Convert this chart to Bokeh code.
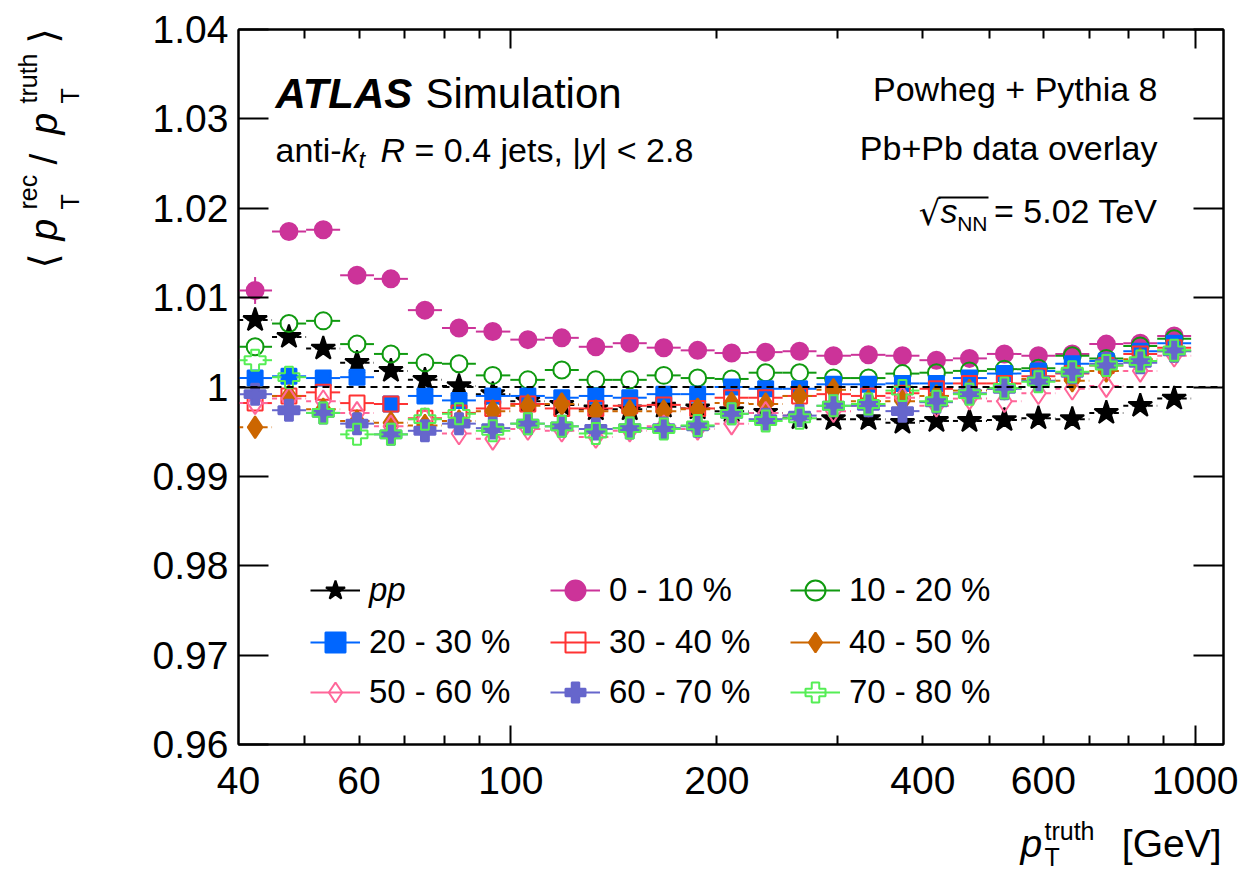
import numpy as np
from bokeh.plotting import figure
from bokeh.layouts import row, column
from bokeh.models import (ColumnDataSource, FixedTicker, LogAxis, LinearAxis, Label,
                          Legend, LegendItem, CustomJSTickFormatter, Span, BoxAnnotation, Range1d)
from bokeh.embed import file_html
from bokeh.resources import INLINE

# ---------------- data ----------------
pt_truth = [42.3, 47.4, 53.2, 59.6, 66.8, 74.9, 84.0, 94.1, 105.9, 118.7, 133.1, 149.2,
            167.3, 187.5, 210.2, 235.7, 264.2, 296.1, 333.1, 373.5, 418.7, 467.9, 526.3,
            590.1, 661.3, 741.6, 831.3, 931.8]

resp_pp = [1.0075, 1.0056, 1.0043, 1.0027, 1.0018, 1.0008, 1.0001, 0.9992, 0.9984, 0.9980,
           0.9975, 0.9975, 0.9978, 0.9976, 0.9973, 0.9971, 0.9965, 0.9964, 0.9964, 0.9960,
           0.9962, 0.9962, 0.9963, 0.9965, 0.9964, 0.9971, 0.9979, 0.9987]
resp_0_10 = [1.0108, 1.0174, 1.0176, 1.0125, 1.0121, 1.0086, 1.0066, 1.0062, 1.0053, 1.0055,
             1.0045, 1.0049, 1.0044, 1.0041, 1.0038, 1.0039, 1.0040, 1.0035, 1.0036, 1.0035,
             1.0030, 1.0032, 1.0037, 1.0035, 1.0037, 1.0048, 1.0049, 1.0057]
resp_10_20 = [1.0045, 1.0071, 1.0074, 1.0048, 1.0037, 1.0027, 1.0026, 1.0013, 1.0008, 1.0019,
              1.0008, 1.0008, 1.0013, 1.0010, 1.0009, 1.0016, 1.0016, 1.0010, 1.0010, 1.0015,
              1.0016, 1.0018, 1.0020, 1.0021, 1.0035, 1.0032, 1.0046, 1.0054]
resp_20_30 = [1.0010, 1.0012, 1.0010, 1.0011, 0.9981, 0.9990, 0.9985, 0.9990, 0.9990, 0.9988,
              0.9990, 0.9988, 0.9992, 0.9992, 1.0000, 0.9998, 0.9998, 1.0003, 1.0003, 1.0004,
              1.0004, 1.0010, 1.0015, 1.0018, 1.0026, 1.0029, 1.0040, 1.0049]
resp_30_40 = [0.9982, 0.9990, 0.9994, 0.9982, 0.9981, 0.9965, 0.9971, 0.9976, 0.9981, 0.9976,
              0.9976, 0.9979, 0.9980, 0.9976, 0.9988, 0.9988, 0.9990, 0.9992, 0.9990, 0.9993,
              0.9998, 1.0004, 1.0004, 1.0012, 1.0015, 1.0024, 1.0037, 1.0044]
resp_40_50 = [0.9955, 0.9990, 0.9975, 0.9962, 0.9960, 0.9957, 0.9962, 0.9973, 0.9979, 0.9981,
              0.9973, 0.9973, 0.9973, 0.9975, 0.9982, 0.9981, 0.9990, 0.9997, 0.9984, 0.9984,
              0.9990, 0.9996, 0.9998, 1.0009, 1.0007, 1.0018, 1.0031, 1.0040]
resp_50_60 = [0.9982, 0.9987, 0.9984, 0.9971, 0.9956, 0.9964, 0.9948, 0.9942, 0.9953, 0.9951,
              0.9944, 0.9951, 0.9956, 0.9953, 0.9959, 0.9971, 0.9968, 0.9973, 0.9979, 0.9988,
              0.9979, 0.9987, 0.9984, 0.9993, 0.9998, 1.0001, 1.0018, 1.0035]
resp_60_70 = [0.9992, 0.9974, 0.9971, 0.9959, 0.9947, 0.9951, 0.9959, 0.9954, 0.9959, 0.9956,
              0.9953, 0.9954, 0.9954, 0.9956, 0.9970, 0.9964, 0.9968, 0.9979, 0.9979, 0.9973,
              0.9983, 0.9993, 0.9998, 1.0007, 1.0016, 1.0026, 1.0027, 1.0040]
resp_70_80 = [1.0030, 1.0011, 0.9971, 0.9947, 0.9947, 0.9964, 0.9970, 0.9951, 0.9959, 0.9956,
              0.9948, 0.9954, 0.9953, 0.9957, 0.9970, 0.9962, 0.9965, 0.9979, 0.9981, 0.9996,
              0.9984, 0.9992, 0.9999, 1.0006, 1.0017, 1.0024, 1.0029, 1.0041]

err_pp = [0.0004, 0.0003, 0.0002, 0.0002, 0.0001, 0.0001, 0.0001, 0.0001, 0.0001, 0.0001,
          0.0001, 0.0001, 0.0001, 0.0001, 0.0001, 0.0001, 0.0001, 0.0001, 0.0001, 0.0001,
          0.0001, 0.0001, 0.0001, 0.0001, 0.0001, 0.0001, 0.0001, 0.0001]
err_0_10 = [0.0015, 0.0009, 0.0006, 0.0005, 0.0005, 0.0004, 0.0004, 0.0003, 0.0003, 0.0003,
            0.0003, 0.0002, 0.0002, 0.0002, 0.0002, 0.0002, 0.0002, 0.0002, 0.0002, 0.0002,
            0.0002, 0.0002, 0.0002, 0.0002, 0.0002, 0.0002, 0.0002, 0.0002]

labels = ["pp", "0 - 10 %", "10 - 20 %", "20 - 30 %", "30 - 40 %", "40 - 50 %",
          "50 - 60 %", "60 - 70 %", "70 - 80 %"]
x_tick_labels = [40, 60, 100, 200, 400, 600, 1000]
y_ticks = [0.96, 0.97, 0.98, 0.99, 1.00, 1.01, 1.02, 1.03, 1.04]

# ---------------- styles ----------------
styles = [
    dict(y=resp_pp, err=err_pp, color="#000000", marker="star", size=25, filled=True, dash="5 4"),
    dict(y=resp_0_10, err=err_0_10, color="#cc3399", marker="circle", size=17, filled=True, dash="solid"),
    dict(y=resp_10_20, err=None, color="#109a10", marker="circle", size=17, filled=False, dash="solid"),
    dict(y=resp_20_30, err=None, color="#0066ff", marker="square", size=15, filled=True, dash="solid"),
    dict(y=resp_30_40, err=None, color="#ff3333", marker="square", size=15, filled=False, dash="solid"),
    dict(y=resp_40_50, err=None, color="#cc6600", marker="diamond", size=22, filled=True, dash="5 4"),
    dict(y=resp_50_60, err=None, color="#ff6699", marker="diamond", size=22, filled=False, dash="5 4"),
    dict(y=resp_60_70, err=None, color="#6666cc", marker="plus", size=21, filled=True, dash="solid"),
    dict(y=resp_70_80, err=None, color="#55ee55", marker="plus", size=21, filled=False, dash="solid"),
]

W, H = 1242, 872
LW = 120            # width of left strip (y title)
MH = 815            # height of main figure
FL, FR, FT, FB = 238, 1223, 29, 744
FONT = "Liberation Sans"

def txt(fig, left0, bottom0, text, px, py, size, style="normal", align="left",
        angle=0.0, font=FONT):
    shift = 0.32 * size   # baseline correction
    if angle:
        px = px - shift
    else:
        py = py - shift
    fig.add_layout(Label(x=px - left0, y=bottom0 - py, x_units="screen", y_units="screen",
                         text=text, text_font=font, text_font_size=f"{size}px",
                         text_font_style=style, text_align=align,
                         text_baseline="alphabetic", angle=angle, text_color="black"))

# ---------------- left strip : y axis title ----------------
lf = figure(width=LW, height=H, output_backend="svg", toolbar_location=None,
            x_range=Range1d(0, 1), y_range=Range1d(0, 1), min_border=0,
            x_axis_location=None, y_axis_location=None)
lf.outline_line_color = None
lf.grid.visible = False
lf.background_fill_color = "white"
lf.border_fill_color = "white"

R = np.pi / 2
def ytxt(text, px, py, size, style="normal", font=FONT):
    txt(lf, 0, H, text, px, py, size, style, angle=R, font=font)

ytxt("\u27e8", 55, 268, 39, font="DejaVu Sans")
ytxt("p", 55, 240, 39, "italic")
ytxt("rec", 35, 209, 25)
ytxt("T", 77, 209, 25)
ytxt("/", 55, 164, 39)
ytxt("p", 55, 134, 39, "italic")
ytxt("truth", 35, 103, 25)
ytxt("T", 77, 103, 25)
ytxt("\u27e9", 55, 43, 39, font="DejaVu Sans")

# ---------------- main figure ----------------
p = figure(width=W - LW, height=MH, x_axis_type="log",
           x_range=Range1d(40, 1100), y_range=Range1d(0.96, 1.04),
           output_backend="svg", toolbar_location=None,
           min_border_left=FL - LW, min_border_right=W - FR,
           min_border_top=FT, min_border_bottom=MH - FB)
p.grid.visible = False
p.outline_line_color = "black"
p.outline_line_width = 2
p.background_fill_color = "white"
p.border_fill_color = "white"

def mtxt(text, px, py, size, style="normal", align="left", font=FONT):
    txt(p, FL, FB, text, px, py, size, style, align, font=font)

mtxt("ATLAS", 275, 106, 42, "bold italic")
mtxt("Simulation", 425, 106, 42)
mtxt("anti-", 275, 160, 34)
mtxt("k", 341, 160, 34, "italic")
mtxt("t", 358, 167, 24, "italic")
mtxt("R", 380, 160, 34, "italic")
mtxt("= 0.4 jets, |", 414, 160, 34)
mtxt("y", 581, 160, 34, "italic")
mtxt("| < 2.8", 598, 160, 34)

mtxt("Powheg + Pythia 8", 1157, 99, 34, align="right")
mtxt("Pb+Pb data overlay", 1157, 158, 34, align="right")
mtxt("= 5.02 TeV", 1157, 221, 34, align="right")
mtxt("NN", 987, 230, 21, align="right")
mtxt("s", 957, 221, 34, "italic", align="right")
mtxt("\u221a", 940, 223, 34, align="right", font="DejaVu Sans")

# axes
x_major = [100, 1000]
x_minor = [50, 60, 70, 80, 90, 200, 300, 400, 500, 600, 700, 800, 900]
blank = CustomJSTickFormatter(code="return '';")

xa = p.xaxis[0]
xa.ticker = FixedTicker(ticks=x_major, minor_ticks=x_minor)
xa.major_tick_in = 19
xa.major_tick_out = 0
xa.minor_tick_in = 9
xa.minor_tick_out = 0
xa.major_tick_line_width = 2
xa.minor_tick_line_width = 2
xa.axis_line_width = 2
xa.formatter = blank
xa.major_label_text_font_size = "0px"
xa.major_label_standoff = 0

xl = LogAxis(ticker=FixedTicker(ticks=x_tick_labels, minor_ticks=[]),
             formatter=CustomJSTickFormatter(code="return tick.toFixed(0);"),
             major_tick_in=0, major_tick_out=0, minor_tick_in=0, minor_tick_out=0,
             axis_line_color=None, major_label_standoff=22,
             major_label_text_font=FONT, major_label_text_font_size="39px",
             major_label_text_color="black")
p.add_layout(xl, "below")

xt = LogAxis(ticker=FixedTicker(ticks=x_major, minor_ticks=x_minor), formatter=blank,
             major_tick_in=19, major_tick_out=0, minor_tick_in=9, minor_tick_out=0,
             major_tick_line_width=2, minor_tick_line_width=2, axis_line_width=2,
             major_label_text_font_size="0px", major_label_standoff=0)
p.add_layout(xt, "above")

ya = p.yaxis[0]
ya.ticker = FixedTicker(ticks=y_ticks, minor_ticks=[])
ya.formatter = CustomJSTickFormatter(
    code="return Math.abs(tick - 1) < 1e-9 ? '1' : tick.toFixed(2);")
ya.major_tick_in = 30
ya.major_tick_out = 0
ya.minor_tick_in = 0
ya.minor_tick_out = 0
ya.major_tick_line_width = 2
ya.axis_line_width = 2
ya.major_label_standoff = 10
ya.major_label_text_font = FONT
ya.major_label_text_font_size = "39px"
ya.major_label_text_color = "black"

yr = LinearAxis(ticker=FixedTicker(ticks=y_ticks, minor_ticks=[]), formatter=blank,
                major_tick_in=30, major_tick_out=0, minor_tick_in=0, minor_tick_out=0,
                major_tick_line_width=2, axis_line_width=2,
                major_label_text_font_size="0px", major_label_standoff=0)
p.add_layout(yr, "right")

# data
pt = np.array(pt_truth)
mid = np.sqrt(pt[1:] * pt[:-1])
lo = np.concatenate([[pt[0] ** 2 / mid[0]], mid])
hi = np.concatenate([mid, [pt[-1] ** 2 / mid[-1]]])
gap = 10 ** 0.011

renderers = []
for st in styles:
    y = np.array(st["y"])
    e = np.array(st["err"]) if st["err"] is not None else np.zeros_like(y)
    src = ColumnDataSource(dict(x=pt, y=y, lo=lo, hi=hi, xl=pt / gap, xr=pt * gap,
                                ylo=y - e, yhi=y + e))
    p.segment(x0="lo", y0="y", x1="xl", y1="y", source=src, line_color=st["color"],
              line_width=2, line_dash=st["dash"])
    p.segment(x0="xr", y0="y", x1="hi", y1="y", source=src, line_color=st["color"],
              line_width=2, line_dash=st["dash"])
    rv = p.segment(x0="x", y0="ylo", x1="x", y1="yhi", source=src, line_color=st["color"],
                   line_width=2)
    rs = p.scatter(x="x", y="y", source=src, marker=st["marker"], size=st["size"],
                   line_color=st["color"], line_width=2,
                   fill_color=st["color"] if st["filled"] else None,
                   fill_alpha=1.0 if st["filled"] else 0.0)
    renderers.append([rv, rs])

# legend
def make_legend(idx, x, y, ncols, italic=False):
    items = [LegendItem(label=labels[i], renderers=renderers[i]) for i in idx]
    lg = Legend(items=items, location=(x, y), orientation="horizontal", ncols=ncols,
                glyph_width=50, glyph_height=50, label_standoff=9, label_width=181,
                spacing=0, padding=0, margin=0, border_line_alpha=0,
                background_fill_alpha=0, label_text_font=FONT,
                label_text_font_size="33px", label_text_color="black",
                label_text_font_style="italic" if italic else "normal")
    p.add_layout(lg)

make_legend([0], 72, 129, 1, italic=True)
make_legend([1, 2], 312, 129, 2)
make_legend([3, 4, 5, 6, 7, 8], 72, 27, 3)

p.add_layout(Span(location=1.0, dimension="width", line_color="black",
                  line_width=2, line_dash="7 5"))
p.add_layout(BoxAnnotation(left=938 - FL, right=988 - FL, top=FB - 196, bottom=FB - 198,
                           left_units="screen", right_units="screen",
                           top_units="screen", bottom_units="screen",
                           fill_color="black", fill_alpha=1, line_alpha=0))

# ---------------- bottom strip : x axis title ----------------
# (its frame is aligned with the main frame: x from FL to FR, y from MH to H)
bf = figure(width=W - LW, height=H - MH, output_backend="svg", toolbar_location=None,
            x_range=Range1d(0, 1), y_range=Range1d(0, 1), min_border=0,
            x_axis_location=None, y_axis_location=None)
bf.outline_line_color = None
bf.grid.visible = False
bf.background_fill_color = "white"
bf.border_fill_color = "white"

def btxt(text, px, py, size, style="normal", align="left"):
    txt(bf, FL, H, text, px, py, size, style, align)

btxt("[GeV]", 1221, 855, 39, align="right")
btxt("p", 1020, 855, 39, "italic")
btxt("truth", 1044, 838, 25)
btxt("T", 1044, 864, 25)

layout = row(lf, column(p, bf, spacing=0), spacing=0)
open("out.html", "w").write(file_html(layout, INLINE))
